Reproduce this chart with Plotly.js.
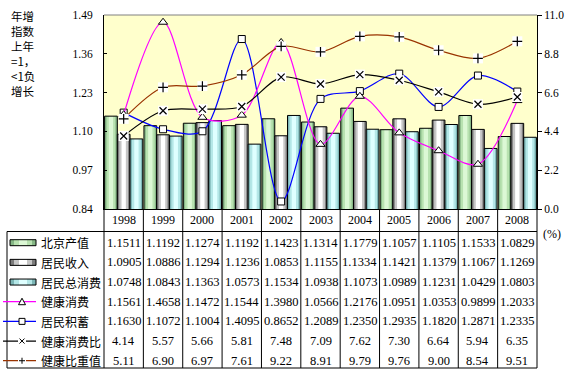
<!DOCTYPE html>
<html><head><meta charset="utf-8">
<script src="https://cdn.plot.ly/plotly-3.0.1.min.js"></script>
<style>html,body{margin:0;padding:0;background:#fff}#chart{width:577px;height:375px}</style>
</head><body><div id="chart"></div>
<script>
// ---- data ----
const years = ['1998','1999','2000','2001','2002','2003','2004','2005','2006','2007','2008'];
const beijingOutput = [1.1511,1.1192,1.1274,1.1192,1.1423,1.1314,1.1779,1.1057,1.1105,1.1533,1.0829];
const residentIncome = [1.0905,1.0886,1.1294,1.1236,1.0853,1.1155,1.1334,1.1421,1.1379,1.1067,1.1269];
const residentConsumption = [1.0748,1.0843,1.1363,1.0573,1.1534,1.0938,1.1073,1.0989,1.1231,1.0429,1.0803];
const healthConsumption = [1.1561,1.4658,1.1472,1.1544,1.3980,1.0566,1.2176,1.0951,1.0353,0.9899,1.2033];
const residentSavings = [1.1630,1.1072,1.1004,1.4095,0.8652,1.2089,1.2350,1.2935,1.1820,1.2871,1.2335];
const healthConsumptionRatio = [4.14,5.57,5.66,5.81,7.48,7.09,7.62,7.30,6.64,5.94,6.35];
const healthShareValue = [5.11,6.90,6.97,7.61,9.22,8.91,9.79,9.76,9.00,8.54,9.51];
const seriesNames = ['北京产值','居民收入','居民总消费','健康消费','居民积蓄','健康消费比','健康比重值'];
const leftTicks = [0.84,0.97,1.10,1.23,1.36,1.49];
const rightTicks = [0,2.2,4.4,6.6,8.8,11.0];
const axisTitle = '年增<br>指数<br>上年<br>=1，<br>&lt;1负<br>增长';

// ---- geometry helpers (pixel -> paper) ----
const L=104, T=15, W=433, H=194;
const px = x => (x-L)/W;
const py = y => (T+H-y)/H;
const serif = 'Liberation Serif, Times New Roman, serif';
const cjk = 'Noto Sans CJK SC, sans-serif';

const barSeries = [beijingOutput, residentIncome, residentConsumption];
const barColors = [
  ['#86b786','#b8e2b0','#dcf8d5'],
  ['#7c7c7c','#c6c6c6','#ffffff'],
  ['#7cb6b6','#b4e7e7','#dfffff']
];
const traces = [];
const bw = 0.3233, o0 = -0.485;
barSeries.forEach((vals,k)=>{
  const o = o0 + k*bw;
  const layers = [[1,0],[0.7,0.15],[0.34,0.33]];
  layers.forEach((ly,j)=>{
    traces.push({type:'bar',x:years,y:vals,width:bw*ly[0],offset:o+bw*ly[1],
      marker:{color:barColors[k][j],line:{width:0}},showlegend:false,hoverinfo:'skip'});
  });
  traces.push({type:'bar',x:years,y:vals,width:bw,offset:o,name:seriesNames[k],
    marker:{color:'rgba(0,0,0,0)',line:{color:'#000',width:1}},showlegend:false});
});

// lines
traces.push({type:'scatter',mode:'lines+markers',x:years,y:residentSavings,name:seriesNames[4],
  line:{color:'#0000ff',width:1.2,shape:'spline',smoothing:0.9},
  marker:{symbol:'square',size:7,color:'#fff',line:{color:'#000',width:1}},showlegend:false});
traces.push({type:'scatter',mode:'lines+markers',x:years,y:healthConsumption,name:seriesNames[3],
  line:{color:'#ff00ff',width:1.2,shape:'spline',smoothing:0.9},
  marker:{symbol:'triangle-up',size:8,color:'#fff',line:{color:'#000',width:1}},showlegend:false});
[[healthConsumptionRatio,'#000000','x-thin',seriesNames[5]],[healthShareValue,'#993300','cross-thin',seriesNames[6]]].forEach(s=>{
  traces.push({type:'scatter',mode:'lines',x:years,y:s[0],yaxis:'y2',name:s[3],
    line:{color:s[1],width:1.2,shape:'spline',smoothing:0.9},showlegend:false});
  traces.push({type:'scatter',mode:'markers',x:years,y:s[0],yaxis:'y2',hoverinfo:'skip',
    marker:{symbol:'square',size:10,color:'#fff',line:{width:0}},showlegend:false});
  traces.push({type:'scatter',mode:'markers',x:years,y:s[0],yaxis:'y2',hoverinfo:'skip',
    marker:{symbol:s[2],size:7,color:'#000',line:{color:'#000',width:1.2}},showlegend:false});
});

// ---- table ----
const rowY = [0,1,2,3,4,5,6].map(i=>242.7+i*19.67);
const tableRows = [beijingOutput,residentIncome,residentConsumption,healthConsumption,residentSavings,healthConsumptionRatio,healthShareValue];
const annotations = [];
years.forEach((yr,i)=>{
  annotations.push({x:i,xref:'x',y:py(220),yref:'paper',text:yr,showarrow:false,
    xanchor:'center',yanchor:'middle',font:{family:serif,size:12,color:'#000'}});
});
tableRows.forEach((row,r)=>{
  row.forEach((v,i)=>{
    annotations.push({x:i,xref:'x',y:py(rowY[r]),yref:'paper',text:v.toFixed(r<5?4:2),
      showarrow:false,xanchor:'center',yanchor:'middle',font:{family:serif,size:12.5,color:'#000'}});
  });
  annotations.push({x:px(39),xref:'paper',y:py(rowY[r]),yref:'paper',text:seriesNames[r],
    showarrow:false,xanchor:'left',yanchor:'middle',font:{family:cjk,size:12,color:'#000'}});
});
annotations.push({x:px(23),xref:'paper',y:py(6),yref:'paper',text:axisTitle,showarrow:false,
  xanchor:'center',yanchor:'top',align:'left',font:{family:cjk,size:11.5,color:'#000'}});
annotations.push({x:px(552),xref:'paper',y:py(234),yref:'paper',text:'(%)',showarrow:false,
  xanchor:'center',yanchor:'middle',font:{family:serif,size:12,color:'#000'}});

const shapes = [];
const ln = (x0,y0,x1,y1,c,w)=>shapes.push({type:'line',xref:'paper',yref:'paper',x0:x0,y0:y0,x1:x1,y1:y1,line:{color:c||'#000',width:w||1}});
ln(0,1,1,1,'#808080',1);
for(let i=0;i<=years.length;i++){ const x=i/years.length; ln(x,py(209),x,py(368)); }
ln(px(7),py(231.5),1,py(231.5));
ln(px(7),py(368),1,py(368));
ln(px(7),py(231.5),px(7),py(368));
// legend icons
for(let r=0;r<3;r++){
  const c=rowY[r];
  const rect=(a,b,col,lc)=>shapes.push({type:'rect',xref:'paper',yref:'paper',x0:px(a),x1:px(b),y0:py(c+3),y1:py(c-3),
    fillcolor:col,line:{width:lc?1:0,color:lc||'rgba(0,0,0,0)'}});
  rect(10,36,barColors[r][0]); rect(14,32,barColors[r][1]); rect(19,27,barColors[r][2]);
  rect(10,36,'rgba(0,0,0,0)','#000');
}
const lineCols=['#ff00ff','#0000ff','#000000','#993300'];
for(let r=3;r<7;r++){
  const c=rowY[r], mx=22;
  ln(px(3),py(c),px(36),py(c),lineCols[r-3],1.2);
  if(r===3){
    shapes.push({type:'path',xref:'paper',yref:'paper',path:`M ${px(mx-3.5)},${py(c+3)} L ${px(mx+3.5)},${py(c+3)} L ${px(mx)},${py(c-3.5)} Z`,fillcolor:'#fff',line:{color:'#000',width:1}});
  } else if(r===4){
    shapes.push({type:'rect',xref:'paper',yref:'paper',x0:px(mx-3),x1:px(mx+3),y0:py(c+3),y1:py(c-3),fillcolor:'#fff',line:{color:'#000',width:1}});
  } else {
    shapes.push({type:'rect',xref:'paper',yref:'paper',x0:px(mx-4),x1:px(mx+4),y0:py(c+4),y1:py(c-4),fillcolor:'#fff',line:{width:0}});
    if(r===5){ ln(px(mx-2.5),py(c-2.5),px(mx+2.5),py(c+2.5)); ln(px(mx-2.5),py(c+2.5),px(mx+2.5),py(c-2.5)); }
    else { ln(px(mx-3),py(c),px(mx+3),py(c)); ln(px(mx),py(c-3),px(mx),py(c+3)); }
  }
}

const layout = {
  width:577,height:375,margin:{l:L,r:577-L-W,t:T,b:375-T-H},
  paper_bgcolor:'#fff',plot_bgcolor:'#ffffcc',barmode:'overlay',showlegend:false,
  xaxis:{type:'category',range:[-0.5,10.5],showticklabels:false,ticks:'',showline:true,linecolor:'#000',linewidth:1,showgrid:false,zeroline:false,fixedrange:true},
  yaxis:{range:[0.84,1.49],tickvals:leftTicks,ticktext:leftTicks.map(v=>v.toFixed(2)),ticks:'inside',ticklen:3,tickcolor:'#000',
    showline:true,linecolor:'#000',linewidth:1,showgrid:false,zeroline:false,ticklabelstandoff:8,
    tickfont:{family:serif,size:11.5,color:'#000'}},
  yaxis2:{overlaying:'y',side:'right',range:[0,11],tickvals:rightTicks,ticktext:rightTicks.map(v=>v.toFixed(1)),ticks:'outside',ticklen:4,tickcolor:'#000',
    showline:true,linecolor:'#000',linewidth:1,showgrid:false,zeroline:false,
    tickfont:{family:serif,size:11.5,color:'#000'}},
  annotations:annotations,shapes:shapes
};
Plotly.newPlot('chart',traces,layout,{staticPlot:true,displayModeBar:false});
</script></body></html>
